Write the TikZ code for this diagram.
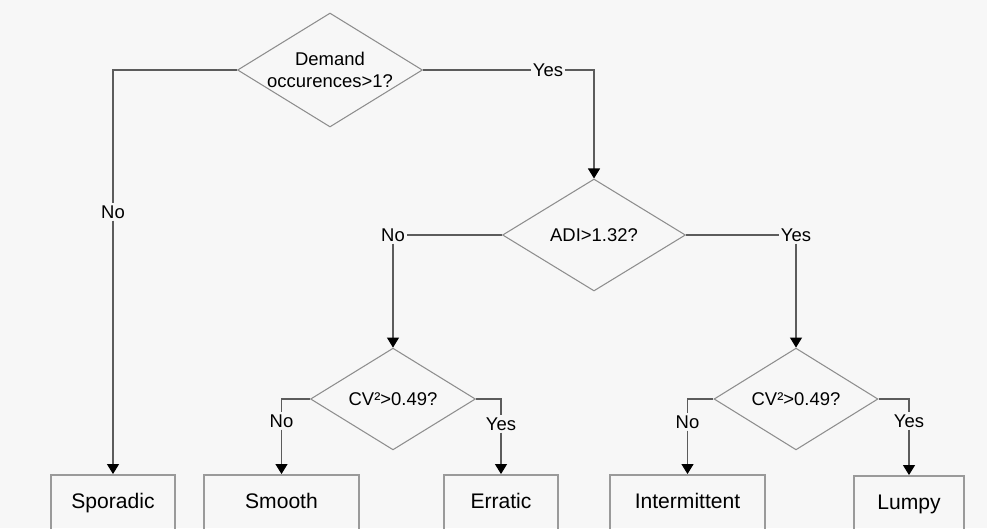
\documentclass[tikz,border=0pt]{standalone}
\usepackage{fontspec}
\setmainfont{Liberation Sans}
\usepackage{xcolor}
\usepackage{tikz}
\usetikzlibrary{backgrounds}
\usetikzlibrary{shapes,shapes.geometric}
\usetikzlibrary{arrows.meta}
\usetikzlibrary{calc}
\pgfdeclarelayer{edgelayer}
\pgfdeclarelayer{nodelayer}
\pgfsetlayers{background,edgelayer,nodelayer,main}
\definecolor{paper}{HTML}{F7F7F7}
\definecolor{edgegrey}{HTML}{5C5C5C}
\definecolor{diagrey}{HTML}{8E8E8E}
\definecolor{boxgrey}{HTML}{9A9A9A}
\tikzstyle{none}=[inner sep=0mm]
\tikzstyle{dec}=[shape=diamond,draw=diagrey,line width=0.6pt,inner sep=0pt,align=center,font=\fontsize{10.5}{12.5}\selectfont]
\tikzstyle{leaf}=[shape=rectangle,draw=boxgrey,line width=1.1pt,minimum height=1.12cm,inner sep=0pt,text height=1.5ex,text depth=.25ex,font=\fontsize{12}{14}\selectfont]
\tikzstyle{lbl}=[inner sep=1pt,font=\fontsize{10.5}{12.5}\selectfont]
\tikzstyle{plain}=[draw=edgegrey,line width=0.6pt]
\tikzstyle{diredge}=[plain,-{Triangle[length=0.2cm,width=0.24cm,color=black]}]

\begin{document}
\begin{tikzpicture}[x=0.02cm,y=-0.02cm]
	\useasboundingbox (0,0) rectangle (987,528);
	\begin{pgfonlayer}{background}
		\fill [paper] (0,0) rectangle (987,528);
	\end{pgfonlayer}
	\begin{pgfonlayer}{nodelayer}
		% decisions
		\node [style=dec,aspect=1.62,minimum width=3.7cm,minimum height=2.28cm] (dem) at (330,70) {Demand\\occurences>1?};
		\node [style=dec,minimum width=3.66cm,minimum height=2.24cm] (adi) at (594,235) {ADI>1.32?};
		\node [style=dec,minimum width=3.3cm,minimum height=1.96cm] (cvl) at (393,399) {CV²>0.49?};
		\node [style=dec,minimum width=3.28cm,minimum height=1.96cm] (cvr) at (796,399) {CV²>0.49?};
		% classes
		\node [style=leaf,minimum width=2.48cm] (spor) at (113,503) {Sporadic};
		\node [style=leaf,minimum width=3.1cm] (smooth) at (281.5,503) {Smooth};
		\node [style=leaf,minimum width=2.28cm] (erratic) at (501,503) {Erratic};
		\node [style=leaf,minimum width=3.1cm] (interm) at (687.5,503) {Intermittent};
		\node [style=leaf,minimum width=2.2cm] (lumpy) at (909,504) {Lumpy};
		% answers
		\node [style=lbl] (noA) at (113,212) {No};
		\node [style=lbl] (yesA) at (548,70) {Yes};
		\node [style=lbl] (noB) at (393,235) {No};
		\node [style=lbl] (yesB) at (796,235) {Yes};
		\node [style=lbl] (noC) at (281.5,421) {No};
		\node [style=lbl] (yesC) at (501,424) {Yes};
		\node [style=lbl] (noD) at (687.5,422) {No};
		\node [style=lbl] (yesD) at (909,421) {Yes};
	\end{pgfonlayer}
	\begin{pgfonlayer}{edgelayer}
		\draw [style=plain] (dem.west) -| (noA.north);
		\draw [style=diredge] (noA.south) to (spor.north);
		\draw [style=plain] (dem.east) to (yesA.west);
		\draw [style=diredge] (yesA.east) -| (adi.north);
		\draw [style=plain] (adi.west) to (noB.east);
		\draw [style=diredge] (noB.south) to (cvl.north);
		\draw [style=plain] (adi.east) to (yesB.west);
		\draw [style=diredge] (yesB.south) to (cvr.north);
		\draw [style=plain] (cvl.west) -| (noC.north);
		\draw [style=diredge] (noC.south) to (smooth.north);
		\draw [style=plain] (cvl.east) -| (yesC.north);
		\draw [style=diredge] (yesC.south) to (erratic.north);
		\draw [style=plain] (cvr.west) -| (noD.north);
		\draw [style=diredge] (noD.south) to (interm.north);
		\draw [style=plain] (cvr.east) -| (yesD.north);
		\draw [style=diredge] (yesD.south) to (lumpy.north);
	\end{pgfonlayer}
\end{tikzpicture}
\end{document}
